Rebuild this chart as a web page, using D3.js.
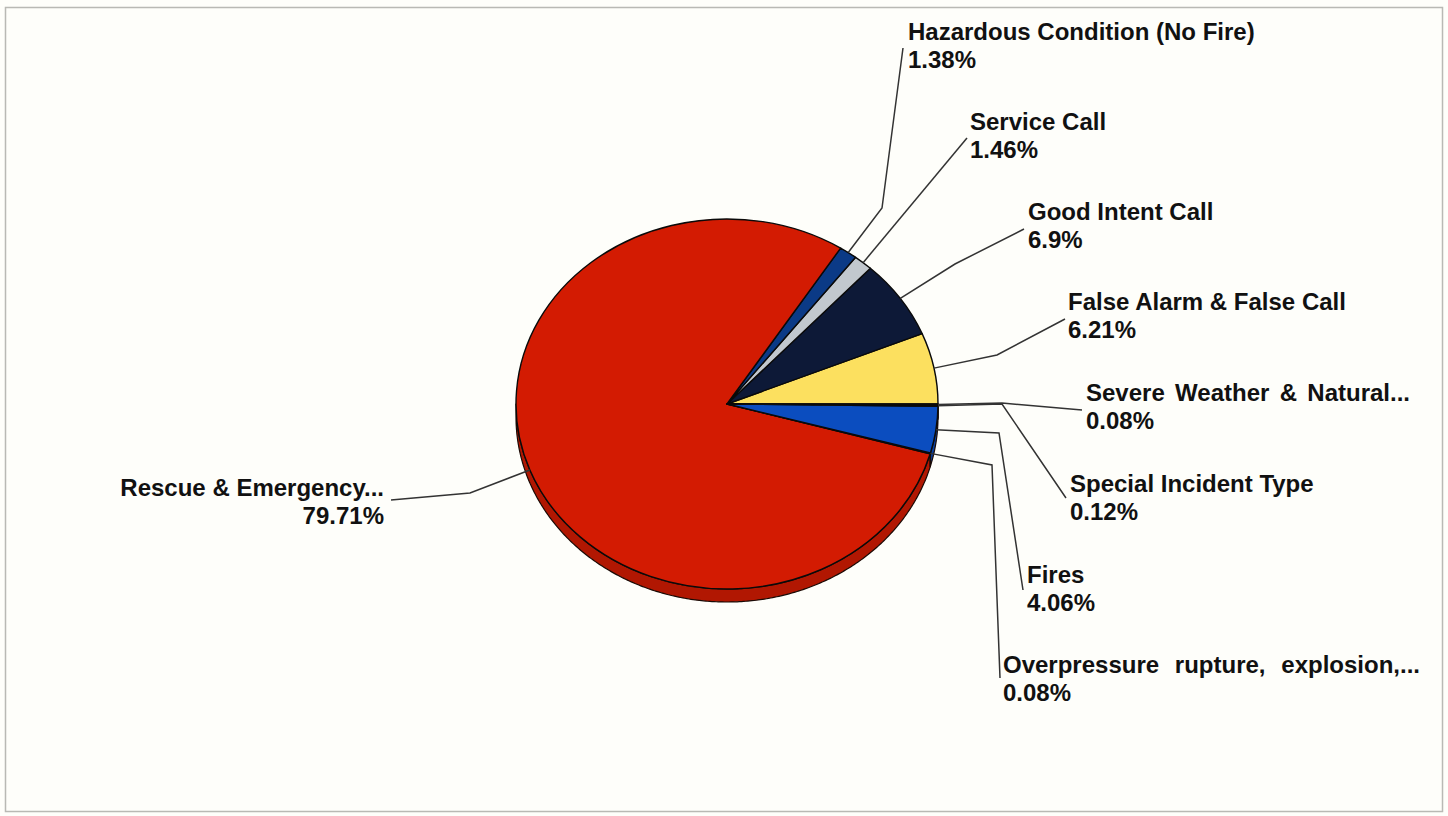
<!DOCTYPE html>
<html>
<head>
<meta charset="utf-8">
<script src="https://cdn.jsdelivr.net/npm/d3@7/dist/d3.min.js"></script>
<style>
  html, body { margin: 0; padding: 0; background: #fefefa; }
  svg { display: block; }
  text { font-family: "Liberation Sans", Arial, sans-serif; font-weight: bold; font-size: 24px; fill: #111; }
</style>
</head>
<body>
<svg id="chart" width="1448" height="816"></svg>
<script>
// Incident categories, counter-clockwise from 3 o'clock
const categories = [
  "False Alarm & False Call",
  "Good Intent Call",
  "Service Call",
  "Hazardous Condition (No Fire)",
  "Rescue & Emergency...",
  "Overpressure rupture, explosion,...",
  "Fires",
  "Special Incident Type",
  "Severe Weather & Natural..."
];
const shares = [6.21, 6.9, 1.46, 1.38, 79.71, 0.08, 4.06, 0.12, 0.08];
const shareLabels = ["6.21%", "6.9%", "1.46%", "1.38%", "79.71%", "0.08%", "4.06%", "0.12%", "0.08%"];
const colors = ["#fce05f", "#0d1937", "#c2c8ce", "#0b3a86", "#d31b02", "#2c56b8", "#0b4dbf", "#e0a030", "#707070"];

// Label placement: leader elbow, leader end, text anchor (x, first baseline), justified width
const labelLayout = [
  { elbow: [997, 355], end: [1065, 319], at: [1068, 310], anchor: "start" },
  { elbow: [955, 264], end: [1024, 229], at: [1028, 220], anchor: "start" },
  { elbow: null,       end: [967, 138],  at: [970, 130],  anchor: "start" },
  { elbow: [882, 208], end: [903, 48],   at: [908, 40],   anchor: "start" },
  { elbow: [470, 493], end: [391, 500],  at: [384, 496],  anchor: "end" },
  { elbow: [992, 465], end: [1000, 678], at: [1003, 673], anchor: "start", width: 417 },
  { elbow: [999, 433], end: [1023, 590], at: [1027, 583], anchor: "start" },
  { elbow: [1002, 404], end: [1066, 498], at: [1070, 492], anchor: "start" },
  { elbow: [1002, 403], end: [1082, 410], at: [1086, 401], anchor: "start", width: 324 }
];

const svg = d3.select("#chart");
const W = 1448, H = 816;

// frame
svg.append("rect").attr("x", 0).attr("y", 0).attr("width", W).attr("height", H).attr("fill", "#fefefa");
svg.append("rect").attr("x", 5.5).attr("y", 7.5).attr("width", 1437).attr("height", 804)
  .attr("fill", "none").attr("stroke", "#b9b9b4").attr("stroke-width", 1.5);

const cx = 727, cy = 404, rx = 211, ry = 185, depth = 13;

const data = categories.map((c, i) => ({ name: c, value: shares[i], label: shareLabels[i], color: colors[i], layout: labelLayout[i] }));

const pie = d3.pie().sort(null).value(d => d.value)
  .startAngle(Math.PI / 2).endAngle(Math.PI / 2 - 2 * Math.PI);
const arcs = pie(data);

const px = a => cx + rx * Math.sin(a);
const py = a => cy - ry * Math.cos(a);

// side wall of the tilted pie (lower half only)
const lowA = -1.5 * Math.PI, highA = -0.5 * Math.PI;
const sideG = svg.append("g");
arcs.forEach(a => {
  const lo = Math.max(Math.min(a.startAngle, a.endAngle), lowA);
  const hi = Math.min(Math.max(a.startAngle, a.endAngle), highA);
  if (hi <= lo) return;
  const n = Math.max(2, Math.ceil((hi - lo) / 0.01));
  const top = d3.range(n + 1).map(k => lo + (hi - lo) * k / n);
  const pts = top.map(t => [px(t), py(t)]).concat(top.slice().reverse().map(t => [px(t), py(t) + depth]));
  sideG.append("path")
    .attr("d", d3.line()(pts) + "Z")
    .attr("fill", d3.color(a.data.color).darker(0.5))
    .attr("stroke", "#1a0a05").attr("stroke-width", 1.2).attr("stroke-linejoin", "round");
});

// top face
const arcGen = d3.arc().innerRadius(0).outerRadius(rx);
svg.append("g")
  .attr("transform", `translate(${cx},${cy}) scale(1,${ry / rx})`)
  .selectAll("path").data(arcs).join("path")
  .attr("d", arcGen)
  .attr("fill", d => d.data.color)
  .attr("stroke", "#0a0a0a").attr("stroke-width", 1.4)
  .attr("stroke-linejoin", "round")
  .attr("vector-effect", "non-scaling-stroke");

// leader lines
const leaderG = svg.append("g");
arcs.forEach(a => {
  const mid = (a.startAngle + a.endAngle) / 2;
  const L = a.data.layout;
  const pts = [[px(mid), py(mid)]];
  if (L.elbow) pts.push(L.elbow);
  pts.push(L.end);
  leaderG.append("path").attr("d", d3.line()(pts))
    .attr("fill", "none").attr("stroke", "#333").attr("stroke-width", 1.5);
});

// labels
const labelG = svg.append("g");
arcs.forEach(a => {
  const L = a.data.layout;
  const t1 = labelG.append("text").attr("x", L.at[0]).attr("y", L.at[1])
    .attr("text-anchor", L.anchor).text(a.data.name);
  if (L.width) {
    const len = t1.node().getComputedTextLength();
    const gaps = (a.data.name.match(/ /g) || []).length;
    if (gaps && L.width > len) t1.style("word-spacing", ((L.width - len) / gaps) + "px");
  }
  labelG.append("text").attr("x", L.at[0]).attr("y", L.at[1] + 28)
    .attr("text-anchor", L.anchor).text(a.data.label);
});
</script>
</body>
</html>
